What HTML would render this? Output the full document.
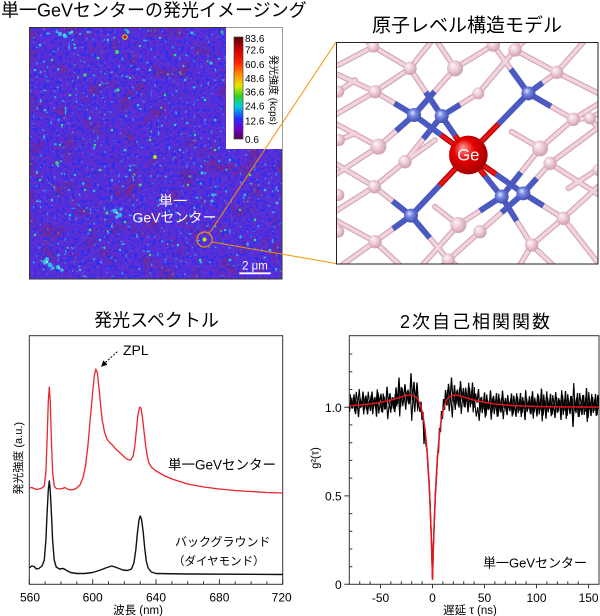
<!DOCTYPE html>
<html><head><meta charset="utf-8"><style>
html,body{margin:0;padding:0;background:#fff;}
svg{display:block;}
text{font-family:"Liberation Sans","Noto Sans CJK JP",sans-serif;}
</style></head><body>
<svg width="600" height="616" viewBox="0 0 600 616" xmlns="http://www.w3.org/2000/svg">
<defs>
<filter id="fBlue" x="29" y="27" width="253" height="252" filterUnits="userSpaceOnUse" color-interpolation-filters="sRGB">
<feTurbulence type="fractalNoise" baseFrequency="0.32" numOctaves="2" seed="4"/>
<feColorMatrix type="matrix" values="0 0 0 0 0.16  0 0 0 0 0.18  0 0 0 0 0.95  6 0 0 0 -3.0"/>
</filter>
<filter id="fMag" x="29" y="27" width="253" height="252" filterUnits="userSpaceOnUse" color-interpolation-filters="sRGB">
<feTurbulence type="fractalNoise" baseFrequency="0.05" numOctaves="2" seed="11"/>
<feColorMatrix type="matrix" values="0 0 0 0 0.48  0 0 0 0 0.15  0 0 0 0 0.56  4 0 0 0 -2.2"/>
</filter>
<filter id="fCyan" x="29" y="27" width="253" height="252" filterUnits="userSpaceOnUse" color-interpolation-filters="sRGB">
<feTurbulence type="fractalNoise" baseFrequency="0.28" numOctaves="1" seed="9"/>
<feColorMatrix type="matrix" values="0 0 0 0 0.16  0 0 0 0 0.72  0 0 0 0 0.95  12 0 0 0 -8.0"/>
</filter>
<filter id="fGreen" x="29" y="27" width="253" height="252" filterUnits="userSpaceOnUse" color-interpolation-filters="sRGB">
<feTurbulence type="fractalNoise" baseFrequency="0.3" numOctaves="1" seed="21"/>
<feColorMatrix type="matrix" values="0 0 0 0 0.3  0 0 0 0 0.88  0 0 0 0 0.45  14 0 0 0 -10.2"/>
</filter>
<linearGradient id="cbar" x1="0" y1="0" x2="0" y2="1">
<stop offset="0" stop-color="#5a0000"/>
<stop offset="0.12" stop-color="#c80000"/>
<stop offset="0.25" stop-color="#ff2000"/>
<stop offset="0.38" stop-color="#ff9a00"/>
<stop offset="0.48" stop-color="#e8e800"/>
<stop offset="0.58" stop-color="#30d020"/>
<stop offset="0.68" stop-color="#00d0e0"/>
<stop offset="0.8" stop-color="#2030ff"/>
<stop offset="0.9" stop-color="#7000d0"/>
<stop offset="1" stop-color="#500050"/>
</linearGradient>
<radialGradient id="gp" cx="45%" cy="45%" r="60%" fx="35%" fy="30%">
<stop offset="0" stop-color="#fff7fa"/><stop offset="0.5" stop-color="#eccad5"/><stop offset="1" stop-color="#c898aa"/>
</radialGradient>
<radialGradient id="gb" cx="45%" cy="45%" r="60%" fx="38%" fy="32%">
<stop offset="0" stop-color="#e0e4ff"/><stop offset="0.4" stop-color="#7585e2"/><stop offset="1" stop-color="#3a48aa"/>
</radialGradient>
<radialGradient id="gr" cx="45%" cy="45%" r="60%" fx="35%" fy="30%">
<stop offset="0" stop-color="#ff9c9c"/><stop offset="0.45" stop-color="#e80000"/><stop offset="1" stop-color="#9c0000"/>
</radialGradient>
<clipPath id="cImg"><rect x="29" y="27" width="253" height="252"/></clipPath>
<clipPath id="cMod"><rect x="336" y="42" width="262" height="222"/></clipPath>
<clipPath id="cG2"><rect x="349.3" y="335.7" width="249.7" height="248.6"/></clipPath>
<clipPath id="cL"><rect x="349.3" y="335.7" width="46.7" height="248.6"/></clipPath>
<clipPath id="cM1"><rect x="396" y="335.7" width="22" height="248.6"/></clipPath>
<clipPath id="cM2"><rect x="446" y="335.7" width="29" height="248.6"/></clipPath>
<clipPath id="cR"><rect x="475" y="335.7" width="124" height="248.6"/></clipPath>
<g id="pb" fill="none" stroke-linecap="round">
<path d="M237 225L120 155M237 225L130 320M237 225L360 85M320 228L225 85M320 228L430 160M320 228L210 365M580 160L475 15M580 160L665 97M580 160L715 238M500 470L370 555M500 470L590 615M500 470L615 325M565 460L435 575M565 460L685 535M565 460L645 370M228 527L118 440M228 527L120 605M228 527L340 660"/>
<path d="M115 20L225 85M115 20L60 -30M115 20L10 75M225 85L120 155M225 85L300 -10M360 85L290 -20M360 85L475 15M120 155L0 100M120 155L0 225M430 160L540 30M475 15L430 -20M540 30L665 97M540 30L590 -20M665 97L760 -10M665 97L800 165M715 238L765 235M715 238L800 185M715 238L615 325M765 235L800 215M765 235L800 275M615 325L530 275M645 370L800 255M645 370L800 470M130 320L0 405M130 320L0 250M210 365L118 440M210 365L300 300M118 440L0 370M118 440L0 515M370 555L240 700M370 555L300 500M435 575L340 660M120 605L0 690M120 605L0 540M120 605L220 700M340 660L300 700M340 660L400 700M590 615L540 700M590 615L685 535M590 615L680 700M685 535L800 430M685 535L790 670M700 445L800 380M10 155L60 120M12 300L60 280"/>
</g>
<polyline id="noise" fill="none" stroke-linejoin="miter" points="349.5,411.7 351,397.6 352.5,408.5 354,394.3 355.5,414.2 357,401.1 358.5,417 360,397.9 361.5,406.7 363,391.6 364.5,409.5 366,395.4 367.5,414.3 369,401.1 370.5,410.9 372,391.6 373.5,407.3 375,397 376.5,416.7 378,392.5 379.5,403.2 381,393.9 382.5,412.6 384,396.3 385.5,409.1 387,386.8 388.5,403.5 390,393.2 391.5,408.8 393,397.3 394.5,411.9 396,387.4 397.5,404 399,377.5 400.5,407.1 402,387.8 403.5,398.5 405,384.2 406.5,402.9 408,389.6 409.5,403.3 411,373.1 412.5,400.2 414,381.8 415.5,402.8 417,382.5 418.5,405 420,412 421,401.7 422,420 423,412 424,444 425,428 426,445 427,450 428,468 429,481 430,503 431,528 432,561 432.5,579.2 433.5,543 434.5,516 435.5,492 436.5,477 437.5,455 438.5,452 439.5,428 440.5,432 441.5,411 442.5,419 443.5,399 444.5,410 445.5,390 447,405.6 448.5,383.8 450,400.5 451.5,377.5 453,402 454.5,385 456,404.2 457.5,389.4 459,407.6 460.5,381 462,399.5 463.5,388 465,407.4 466.5,393.8 468,412.3 469.5,387.7 471,404.2 472.5,382.6 474,408 475.5,393.4 477,402.8 478.5,389.1 480,412.4 481.5,396.8 483,409.1 484.5,392.4 486,415.6 487.5,399.9 489,409.1 490.5,390.3 492,412.5 493.5,395.8 495,408 496.5,393.1 498,416.3 499.5,398.4 501,412.6 502.5,390.7 504,407.9 505.5,398 507,415.1 508.5,401.2 510,411.3 511.5,393.4 513,414.5 514.5,403.6 516,416.8 517.5,396.8 519,410.9 520.5,392.9 522,413 523.5,401 525,420.1 526.5,398.1 528,409.2 529.5,396.2 531,414.3 532.5,391.3 534,412.4 535.5,402.4 537,416.5 538.5,395.5 540,410.5 541.5,388.6 543,415.6 544.5,400.6 546,418.7 547.5,397.7 549,408.7 550.5,393.8 552,414.8 553.5,403.8 555,417.9 556.5,396.9 558,411.9 559.5,399.9 561,419.9 562.5,395 564,411 565.5,391 567,416 568.5,402 570,414 571.5,396 573,427 574.5,399 576,413 577.5,393 579,417 580.5,404 582,415 583.5,395 585,412 586.5,388 588,418.1 589.5,401.1 591,416.1 592.5,397.1 594,411.1 595.5,394.1 597,415.1 598.5,402.1"/>
</defs>

<!-- Titles -->
<text x="1" y="16.5" font-size="18" fill="#000">単一GeVセンターの発光イメージング</text>
<text x="467" y="31.5" font-size="19" fill="#000" text-anchor="middle">原子レベル構造モデル</text>
<text x="156.5" y="326.3" font-size="18" fill="#000" text-anchor="middle">発光スペクトル</text>
<text x="476" y="328" font-size="18" fill="#000" text-anchor="middle" letter-spacing="2">2次自己相関関数</text>

<!-- Fluorescence image -->
<g clip-path="url(#cImg)">
<rect x="29" y="27" width="253" height="252" fill="#5f2ed2"/>
<rect x="29" y="27" width="253" height="252" fill="#000" filter="url(#fMag)"/>
<rect x="29" y="27" width="253" height="252" fill="#000" filter="url(#fBlue)"/>
<rect x="29" y="27" width="253" height="252" fill="#000" filter="url(#fCyan)"/>
<rect x="29" y="27" width="253" height="252" fill="#000" filter="url(#fGreen)"/>
<g fill="#2cc4f0">
<circle cx="40" cy="45" r="1.3"/><circle cx="75" cy="48" r="1.2"/><circle cx="108" cy="40" r="1.3"/><circle cx="160" cy="38" r="1.2"/><circle cx="150" cy="70" r="1.3"/><circle cx="100" cy="85" r="1.2"/><circle cx="45" cy="110" r="1.3"/><circle cx="90" cy="118" r="1.2"/><circle cx="138" cy="105" r="1.3"/><circle cx="185" cy="80" r="1.2"/><circle cx="215" cy="120" r="1.3"/><circle cx="175" cy="125" r="1.2"/><circle cx="125" cy="150" r="1.3"/><circle cx="75" cy="175" r="1.2"/><circle cx="52" cy="200" r="1.3"/><circle cx="100" cy="240" r="1.2"/><circle cx="160" cy="200" r="1.3"/><circle cx="230" cy="160" r="1.2"/><circle cx="265" cy="190" r="1.3"/><circle cx="225" cy="230" r="1.2"/><circle cx="270" cy="250" r="1.3"/><circle cx="120" cy="250" r="1.2"/><circle cx="70" cy="215" r="1.3"/><circle cx="80" cy="270" r="1.2"/><circle cx="230" cy="260" r="1.3"/><circle cx="245" cy="195" r="1.2"/><circle cx="130" cy="170" r="1.3"/><circle cx="180" cy="150" r="1.2"/><circle cx="35" cy="70" r="1.3"/><circle cx="88" cy="32" r="1.3"/><circle cx="192" cy="33" r="1.5"/><circle cx="211" cy="63" r="1.6"/><circle cx="202" cy="173" r="1.6"/><circle cx="213" cy="195" r="1.6"/><circle cx="212" cy="201" r="1.5"/><circle cx="178" cy="245" r="1.3"/><circle cx="277" cy="203" r="1.4"/>
</g>
<g fill="#3ed870">
<circle cx="52" cy="60" r="1.2"/><circle cx="98" cy="58" r="1.3"/><circle cx="140" cy="46" r="1.2"/><circle cx="175" cy="55" r="1.3"/><circle cx="130" cy="78" r="1.2"/><circle cx="70" cy="95" r="1.3"/><circle cx="62" cy="125" r="1.2"/><circle cx="112" cy="130" r="1.3"/><circle cx="165" cy="95" r="1.2"/><circle cx="205" cy="100" r="1.3"/><circle cx="195" cy="135" r="1.2"/><circle cx="150" cy="140" r="1.3"/><circle cx="95" cy="145" r="1.2"/><circle cx="40" cy="180" r="1.3"/><circle cx="85" cy="190" r="1.2"/><circle cx="140" cy="185" r="1.3"/><circle cx="188" cy="185" r="1.2"/><circle cx="250" cy="175" r="1.3"/><circle cx="240" cy="210" r="1.2"/><circle cx="255" cy="240" r="1.3"/><circle cx="150" cy="255" r="1.2"/><circle cx="90" cy="230" r="1.3"/><circle cx="35" cy="235" r="1.2"/><circle cx="200" cy="260" r="1.3"/><circle cx="180" cy="220" r="1.2"/><circle cx="100" cy="170" r="1.3"/><circle cx="60" cy="145" r="1.2"/><circle cx="215" cy="150" r="1.3"/><circle cx="255" cy="220" r="1.2"/>
<circle cx="117" cy="52" r="2"/><circle cx="85" cy="75" r="1.6"/><circle cx="118" cy="90" r="1.6"/><circle cx="57" cy="163" r="1.8"/><circle cx="107" cy="213" r="1.5"/><circle cx="125" cy="222" r="1.3"/><circle cx="222" cy="32" r="1.4"/><circle cx="128" cy="32" r="1.6"/>
</g>
<g fill="#34bce8">
<circle cx="60" cy="34" r="2"/><circle cx="65" cy="36" r="2.2"/><circle cx="70" cy="33" r="1.6"/><circle cx="57" cy="32" r="1.4"/>
<circle cx="115" cy="211" r="2.4"/><circle cx="120" cy="215" r="2.2"/><circle cx="117" cy="217" r="1.8"/><circle cx="121" cy="209" r="1.6"/>
<circle cx="45" cy="262" r="2.6"/><circle cx="50" cy="265" r="2.4"/><circle cx="47" cy="259" r="2"/><circle cx="58" cy="267" r="2.2"/><circle cx="62" cy="270" r="1.8"/><circle cx="53" cy="268" r="1.6"/>
</g>
<g fill="#90f0e0">
<circle cx="64" cy="35" r="1"/><circle cx="117" cy="213" r="1.2"/><circle cx="47" cy="262" r="1.3"/><circle cx="59" cy="268" r="1"/>
</g>
<circle cx="72" cy="32" r="1.2" fill="#70f060"/>
<circle cx="125" cy="37" r="2.8" fill="#c8e030"/><circle cx="125" cy="37" r="1.8" fill="#e01010"/>
<circle cx="155" cy="157" r="2" fill="#b0e020"/>
<circle cx="204.5" cy="239.5" r="2.2" fill="#a8e030"/><circle cx="204.5" cy="239.5" r="1" fill="#f0e000"/>
</g>
<rect x="29.5" y="27.5" width="252.5" height="251.5" fill="none" stroke="#333" stroke-width="1"/>
<!-- colorbar -->
<rect x="226" y="27.5" width="56" height="121.5" fill="#fff"/>
<rect x="234" y="37" width="9" height="102" fill="url(#cbar)" stroke="#444" stroke-width="0.7"/>
<g font-size="10" fill="#000">
<text x="245" y="41.8">83.6</text><text x="245" y="53.6">72.6</text><text x="245" y="67.9">60.6</text><text x="245" y="81.9">48.6</text><text x="245" y="95.3">36.6</text><text x="245" y="109.6">24.6</text><text x="245" y="124.6">12.6</text><text x="245" y="142.9">0.6</text>
</g>
<text transform="translate(269.8,90) rotate(90)" font-size="10" text-anchor="middle" fill="#000">発光強度 (kcps)</text>
<!-- image labels -->
<text x="173" y="206" font-size="14" fill="#fff" text-anchor="middle">単一</text>
<text x="174.5" y="222.5" font-size="14" fill="#fff" text-anchor="middle">GeVセンター</text>
<line x1="239.3" y1="273.3" x2="270.7" y2="273.3" stroke="#fff" stroke-width="1.8"/>
<text x="255" y="269.5" font-size="11.5" fill="#fff" text-anchor="middle">2 μm</text>
<circle cx="204.5" cy="239.5" r="7.5" fill="none" stroke="#f39200" stroke-width="1.2"/>

<!-- Model -->
<rect x="336" y="42" width="262" height="222" fill="#fff"/>
<g clip-path="url(#cMod)">
<g transform="translate(335,40) scale(0.333333)">
<use href="#pb" stroke="#d4a6b7" stroke-width="17"/>
<use href="#pb" stroke="#f1d4de" stroke-width="10"/>
<g fill="url(#gp)">
<circle cx="115" cy="20" r="18"/><circle cx="225" cy="85" r="20"/><circle cx="360" cy="85" r="24"/><circle cx="120" cy="155" r="20"/><circle cx="430" cy="160" r="18"/><circle cx="475" cy="15" r="20"/><circle cx="540" cy="30" r="20"/><circle cx="665" cy="97" r="20"/><circle cx="715" cy="238" r="20"/><circle cx="765" cy="235" r="18"/><circle cx="615" cy="325" r="24"/><circle cx="645" cy="370" r="20"/><circle cx="130" cy="320" r="24"/><circle cx="210" cy="365" r="20"/><circle cx="118" cy="440" r="20"/><circle cx="370" cy="555" r="24"/><circle cx="435" cy="575" r="20"/><circle cx="120" cy="605" r="20"/><circle cx="340" cy="660" r="20"/><circle cx="590" cy="615" r="20"/><circle cx="685" cy="535" r="20"/><circle cx="10" cy="155" r="18"/><circle cx="12" cy="300" r="18"/><circle cx="10" cy="465" r="18"/><circle cx="10" cy="575" r="18"/><circle cx="790" cy="390" r="18"/>
</g>
<g fill="none" stroke-linecap="butt">
<path id="bh" d="M237 225L178.5 190M237 225L183.5 272.5M237 225L298.5 155M320 228L272.5 156.5M320 228L375 194M320 228L265 296.5M580 160L527.5 87.5M580 160L622.5 128.5M580 160L647.5 199M500 470L435 512.5M500 470L545 542.5M500 470L557.5 397.5M565 460L500 517.5M565 460L625 497.5M565 460L605 415M228 527L173 483.5M228 527L174 566M228 527L284 593.5M237 225L318.5 285M320 228L360 286.5M580 160L490 252.5M500 470L450 407.5M565 460L482.5 402.5M228 527L314 436" stroke="#4a5ac0" stroke-width="17"/>
<use href="#bh" stroke="#7d8ce8" stroke-width="9"/>
<path d="M400 345L318.5 285M400 345L360 286.5M400 345L490 252.5M400 345L450 407.5M400 345L482.5 402.5M400 345L314 436" stroke="#b00000" stroke-width="17"/>
<path d="M400 345L318.5 285M400 345L360 286.5M400 345L490 252.5M400 345L450 407.5M400 345L482.5 402.5M400 345L314 436" stroke="#f01414" stroke-width="9"/>
</g>
<g fill="url(#gb)">
<circle cx="237" cy="225" r="21"/><circle cx="320" cy="228" r="21"/><circle cx="580" cy="160" r="21"/><circle cx="500" cy="470" r="21"/><circle cx="565" cy="460" r="21"/><circle cx="228" cy="527" r="21"/>
</g>
<circle cx="400" cy="345" r="58" fill="url(#gr)"/>
<text x="400" y="362" font-size="50" fill="#fff" text-anchor="middle">Ge</text>
</g>
</g>
<rect x="336.5" y="42.5" width="261.5" height="221.5" fill="none" stroke="#222" stroke-width="1"/>
<!-- orange connectors -->
<line x1="209.5" y1="233" x2="336" y2="42" stroke="#f39200" stroke-width="1"/>
<line x1="212" y1="242" x2="336" y2="263.5" stroke="#f39200" stroke-width="1"/>

<!-- Spectrum -->
<rect x="29.3" y="335.7" width="253.4" height="248.6" fill="none" stroke="#333" stroke-width="1"/>
<g stroke="#333" stroke-width="1">
<path d="M29.3 584.3v-5M92.7 584.3v-5M156 584.3v-5M219.4 584.3v-5M282.7 584.3v-5M45.1 584.3v-3M61 584.3v-3M76.8 584.3v-3M108.5 584.3v-3M124.3 584.3v-3M140.2 584.3v-3M171.9 584.3v-3M187.7 584.3v-3M203.5 584.3v-3M235.2 584.3v-3M251.1 584.3v-3M266.9 584.3v-3"/>
</g>
<polyline fill="none" stroke="#e8262e" stroke-width="1.3" stroke-linejoin="round" points="29.3,488 31.7,487.5 34.1,488.5 36.4,489.5 38.8,489 42.0,488 44.3,486 45.9,471.5 47.0,443 48.3,401 49.3,387 50.2,401 51.5,443 52.6,471.5 54.2,486 56.2,488.5 59.4,489 62.5,488.5 64.9,487.5 67.3,489 70.5,490 73.7,489.5 76.8,488 80.0,485 83.2,477 85.5,466 87.9,446 90.3,418 92.7,392 94.3,376 95.8,369 97.4,373 99.0,388 100.6,405 102.2,420 104.5,432 106.9,439 110.1,443 112.5,445 114.8,448 118.0,451 121.2,454 124.3,457 127.5,459.5 130.7,460 133.1,456 134.7,447 136.2,432 137.8,416 139.4,408 140.2,407 141.2,409 142.5,418 144.1,432 145.7,446 147.3,456 148.9,463 151.3,467 156.0,471 164.0,475.5 171.9,479 187.7,484 203.5,487 219.4,489 235.2,490.5 251.1,491.5 266.9,492.5 282.7,493"/>
<polyline fill="none" stroke="#111" stroke-width="1.4" stroke-linejoin="round" points="29.3,568 31.7,566 34.1,566.5 36.4,569 38.8,568.5 42.0,566 44.3,560 45.9,540 47.0,515 48.3,490 49.3,481 50.2,490 51.5,515 52.6,540 54.2,560 56.2,567 59.4,569 63.4,568.5 65.8,570 70.5,572.5 76.8,573.5 84.7,573.5 92.7,572.5 100.6,570 106.9,567.5 111.7,566 116.4,567.5 122.8,570 127.5,570.5 131.5,569 133.9,563 135.8,550 137.4,533 139.0,520 140.2,516 141.5,519 143.1,531 144.7,548 146.3,561 148.2,568 151.3,572 156.0,573.5 187.7,574 282.7,574.5"/>
<g font-size="12" fill="#000" text-anchor="middle">
<text x="30" y="601.3">560</text><text x="92.7" y="601.3">600</text><text x="156" y="601.3">640</text><text x="219.4" y="601.3">680</text><text x="281.7" y="601.3">720</text>
</g>
<text x="138" y="614" font-size="11.5" fill="#000" text-anchor="middle">波長 (nm)</text>
<text transform="translate(22,458.3) rotate(-90)" font-size="11" fill="#000" text-anchor="middle">発光強度 (a.u.)</text>
<text x="123" y="355" font-size="14" fill="#000">ZPL</text>
<line x1="117.3" y1="351.7" x2="105.4" y2="362.6" stroke="#000" stroke-width="1" stroke-dasharray="2,1.5"/>
<polygon points="101,366.7 107.4,364.8 103.4,360.4" fill="#000"/>
<text x="168" y="469.7" font-size="13.5" fill="#000">単一GeVセンター</text>
<text x="175" y="546.2" font-size="12" fill="#000">バックグラウンド</text>
<text x="173" y="565.2" font-size="11.5" fill="#000">（ダイヤモンド）</text>

<!-- g2 -->
<rect x="349.3" y="335.7" width="249.7" height="248.6" fill="none" stroke="#333" stroke-width="1"/>
<g stroke="#333" stroke-width="1">
<path d="M349.3 584.3h-5M349.3 495.9h-5M349.3 407.2h-5M349.3 566.8h3M349.3 549h3M349.3 531.3h3M349.3 513.6h3M349.3 478.1h3M349.3 460.4h3M349.3 442.7h3M349.3 424.9h3M349.3 389.5h3M349.3 371.7h3M349.3 354h3"/>
<path d="M380.5 584.3v4M432.5 584.3v4M484.5 584.3v4M536.5 584.3v4M588.6 584.3v4M359.7 584.3v-3M370.1 584.3v-3M390.9 584.3v-3M401.3 584.3v-3M411.7 584.3v-3M422.1 584.3v-3M442.9 584.3v-3M453.3 584.3v-3M463.7 584.3v-3M474.1 584.3v-3M494.9 584.3v-3M505.3 584.3v-3M515.7 584.3v-3M526.1 584.3v-3M546.9 584.3v-3M557.4 584.3v-3M567.8 584.3v-3M578.2 584.3v-3"/>
</g>
<g clip-path="url(#cG2)">
<use href="#noise" stroke="#000" stroke-width="1.3"/>
</g>
<g clip-path="url(#cL)"><use href="#noise" stroke="#000" stroke-width="1.1" transform="translate(0.75,806) scale(1,-1)"/></g>
<g clip-path="url(#cM1)"><use href="#noise" stroke="#000" stroke-width="1.1" transform="translate(0.75,794) scale(1,-1)"/></g>
<g clip-path="url(#cM2)"><use href="#noise" stroke="#000" stroke-width="1.1" transform="translate(0.75,795) scale(1,-1)"/></g>
<g clip-path="url(#cR)"><use href="#noise" stroke="#000" stroke-width="1.1" transform="translate(0.75,810) scale(1,-1)"/></g>
<g clip-path="url(#cG2)">
<polyline fill="none" stroke="#e8141e" stroke-width="1.5" stroke-linejoin="round" points="349.3,405.75 359.7,405.04 370.1,404.0 380.5,402.4 390.9,400.1 401.3,397.04 406.5,395.53 411.7,395.05 413.8,395.58 415.9,396.95 417.9,399.56 420.0,404.06 422.1,411.49 423.1,416.76 424.2,423.33 425.2,431.54 426.3,441.79 427.3,454.5 428.3,470.2 429.4,489.59 430.4,513.53 431.5,542.96 432.5,579.2 433.5,542.96 434.6,513.53 435.6,489.59 436.7,470.2 437.7,454.5 438.7,441.79 439.8,431.54 440.8,423.33 441.9,416.76 442.9,411.49 445.0,404.06 447.1,399.56 449.1,396.95 451.2,395.58 453.3,395.05 458.5,395.53 463.7,397.04 474.1,400.1 484.5,402.4 494.9,404.0 505.3,405.04 515.7,405.75 536.5,406.5 557.3,406.9 578.2,407.05 598.9,407.1"/>
</g>
<g font-size="12" fill="#000" text-anchor="end">
<text x="341.7" y="411.8">1.0</text><text x="341.7" y="500.3">0.5</text><text x="341.7" y="588.8">0</text>
</g>
<g font-size="12" fill="#000" text-anchor="middle">
<text x="380.5" y="602">-50</text><text x="432.5" y="602">0</text><text x="484.5" y="602">50</text><text x="536.5" y="602">100</text><text x="588.6" y="602">150</text>
</g>
<text x="470" y="614" font-size="11.5" fill="#000" text-anchor="middle">遅延 τ (ns)</text>
<text transform="translate(318.5,458) rotate(-90)" font-size="11" fill="#000" text-anchor="middle">g²(τ)</text>
<text x="483" y="567.5" font-size="13" fill="#000">単一GeVセンター</text>
</svg>
</body></html>
